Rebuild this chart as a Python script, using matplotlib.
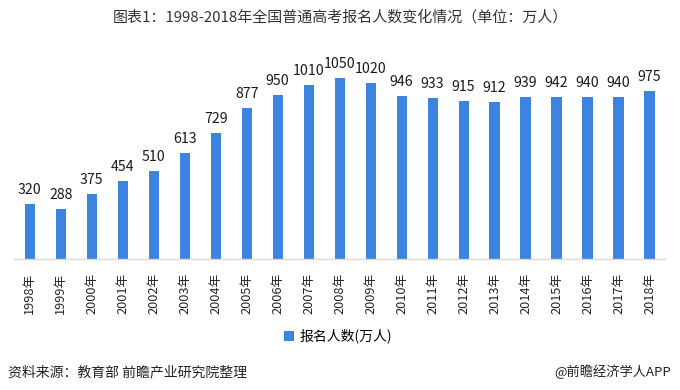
import matplotlib.pyplot as plt

plt.rcParams['font.family'] = ['Noto Sans CJK SC', 'DejaVu Sans']

years = ['1998年', '1999年', '2000年', '2001年', '2002年', '2003年', '2004年',
         '2005年', '2006年', '2007年', '2008年', '2009年', '2010年', '2011年',
         '2012年', '2013年', '2014年', '2015年', '2016年', '2017年', '2018年']
applicants = [320, 288, 375, 454, 510, 613, 729, 877, 950, 1010, 1050,
              1020, 946, 933, 915, 912, 939, 942, 940, 940, 975]

title = '图表1：1998-2018年全国普通高考报名人数变化情况（单位：万人）'
series_name = '报名人数(万人)'
source = '资料来源：教育部 前瞻产业研究院整理'
brand = '@前瞻经济学人APP'

bar_color = '#3d83e0'

fig = plt.figure(figsize=(6.8, 3.9), dpi=100)
ax = fig.add_axes([0.021, 0.336, 0.957, 0.55])

x = range(len(years))
bars = ax.bar(x, applicants, width=0.33, color=bar_color, label=series_name)

# value labels above each bar
for xi, v in zip(x, applicants):
    ax.annotate(str(v), (xi, v), xytext=(0, 5), textcoords='offset points',
                ha='center', va='bottom', fontsize=10.2, color='#1a1a1a')

ax.set_xlim(-0.5, len(years) - 0.5)
ax.set_ylim(0, 1244)
ax.set_xticks(list(x))
ax.set_xticklabels(years, rotation=90, fontsize=9.2, color='#262626')
ax.tick_params(axis='x', length=0, pad=10)
ax.set_yticks([])

for side in ['top', 'right', 'left']:
    ax.spines[side].set_visible(False)
ax.spines['bottom'].set_color('#d9d9d9')
ax.spines['bottom'].set_linewidth(1)

fig.text(0.5, 0.957, title, ha='center', va='center', fontsize=10.8, color='#333333')

fig.legend(handles=[bars], labels=[series_name], loc='center',
           bbox_to_anchor=(0.497, 0.138), frameon=False, fontsize=10,
           handlelength=0.7, handleheight=0.7, handletextpad=0.4)

fig.text(0.012, 0.046, source, ha='left', va='center', fontsize=10,
         color='#222222', style='italic')
fig.text(0.987, 0.046, brand, ha='right', va='center', fontsize=9.5,
         color='#222222')

fig.savefig('out.png', dpi=100)
